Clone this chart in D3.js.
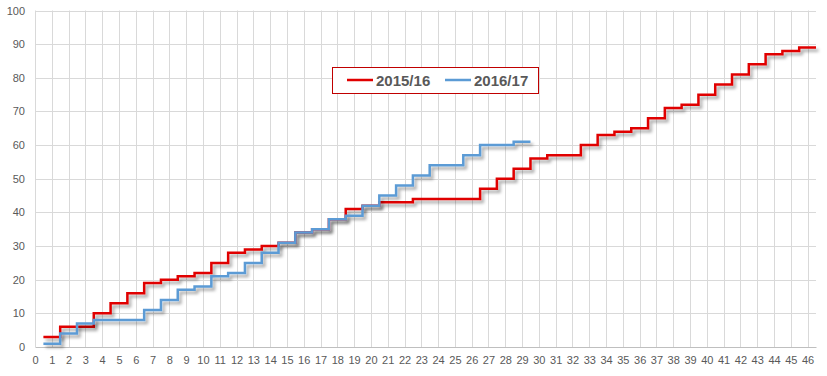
<!DOCTYPE html>
<html>
<head>
<meta charset="utf-8">
<script src="https://cdn.jsdelivr.net/npm/d3@7"></script>
<style>
  body { margin: 0; background: #fff; }
  text { font-family: "Liberation Sans", Arial, sans-serif; fill: #595959; }
</style>
</head>
<body>
<div id="chart"></div>
<script>
// cumulative points per game
var seasons = ["2015/16", "2016/17"];
var colors = ["#e00000", "#5b9bd5"];
var points1516 = [3, 6, 6, 10, 13, 16, 19, 20, 21, 22, 25, 28, 29, 30, 31, 34, 35, 38, 41, 42,
  43, 43, 44, 44, 44, 44, 47, 50, 53, 56, 57, 57, 60, 63, 64, 65, 68, 71, 72, 75,
  78, 81, 84, 87, 88, 89];
var points1617 = [1, 4, 7, 8, 8, 8, 11, 14, 17, 18, 21, 22, 25, 28, 31, 34, 35, 38, 39, 42,
  45, 48, 51, 54, 54, 57, 60, 60, 61];
var xTicks = d3.range(0, 47);
var yTicks = [0, 10, 20, 30, 40, 50, 60, 70, 80, 90, 100];

var svgWidth = 827;
var svgHeight = 376;

var svg = d3.select("#chart")
  .append("svg")
  .attr("width", svgWidth)
  .attr("height", svgHeight);

var x = d3.scaleLinear().domain([0, 46.5]).range([35, 816]);
var y = d3.scaleLinear().domain([0, 100]).range([347, 10.5]);

// drop shadow under the lines
var defs = svg.append("defs");
defs.append("filter")
  .attr("id", "shadow")
  .attr("x", "-5%").attr("y", "-5%")
  .attr("width", "110%").attr("height", "110%")
  .append("feDropShadow")
  .attr("dx", 2.5)
  .attr("dy", 3)
  .attr("stdDeviation", 1.5)
  .attr("flood-color", "#000")
  .attr("flood-opacity", 0.35);

// gridlines
svg.append("g")
  .selectAll("line")
  .data(yTicks.slice(1))
  .enter()
  .append("line")
  .attr("x1", x(0)).attr("x2", x(46.5))
  .attr("y1", d => Math.round(y(d)) + 0.5)
  .attr("y2", d => Math.round(y(d)) + 0.5)
  .attr("stroke", "#d9d9d9");

svg.append("g")
  .selectAll("line")
  .data(xTicks)
  .enter()
  .append("line")
  .attr("x1", d => Math.round(x(d)) + 0.5)
  .attr("x2", d => Math.round(x(d)) + 0.5)
  .attr("y1", y(100)).attr("y2", y(0))
  .attr("stroke", "#d9d9d9");

// x axis
var xAxis = svg.append("g")
  .attr("transform", `translate(0, ${y(0)})`)
  .call(d3.axisBottom(x).tickValues(xTicks).tickSize(0).tickPadding(9).tickFormat(d3.format("d")));
xAxis.select(".domain").attr("stroke", "#bfbfbf");
xAxis.selectAll("text").attr("font-size", "11px").attr("fill", "#595959");

// y axis
var yAxis = svg.append("g")
  .attr("transform", "translate(25, 0)")
  .call(d3.axisLeft(y).tickValues(yTicks).tickSize(0).tickPadding(0));
yAxis.select(".domain").remove();
yAxis.selectAll("text").attr("font-size", "11px").attr("fill", "#595959");

// step lines: game n covers n-0.5 .. n+0.5
function stepPoints(values) {
  var pts = values.map((v, i) => [i + 0.5, v]);
  pts.push([values.length + 0.5, values[values.length - 1]]);
  return pts;
}

var line = d3.line()
  .x(d => x(d[0]))
  .y(d => y(d[1]))
  .curve(d3.curveStepAfter);

[points1516, points1617].forEach(function(values, i) {
  svg.append("path")
    .datum(stepPoints(values))
    .attr("d", line)
    .attr("fill", "none")
    .attr("stroke", colors[i])
    .attr("stroke-width", 2.5)
    .attr("filter", "url(#shadow)");
});

// legend
var legend = svg.append("g");
legend.append("rect")
  .attr("x", 332.5).attr("y", 67.5)
  .attr("width", 206).attr("height", 26)
  .attr("fill", "#fff")
  .attr("stroke", "#c00000");

var legendX = [347, 445];
seasons.forEach(function(s, i) {
  legend.append("line")
    .attr("x1", legendX[i]).attr("x2", legendX[i] + 26)
    .attr("y1", 80).attr("y2", 80)
    .attr("stroke", colors[i])
    .attr("stroke-width", 2.5);
  legend.append("text")
    .attr("x", legendX[i] + 29)
    .attr("y", 85.5)
    .attr("font-size", "15px")
    .attr("font-weight", "bold")
    .text(s);
});
</script>
</body>
</html>
